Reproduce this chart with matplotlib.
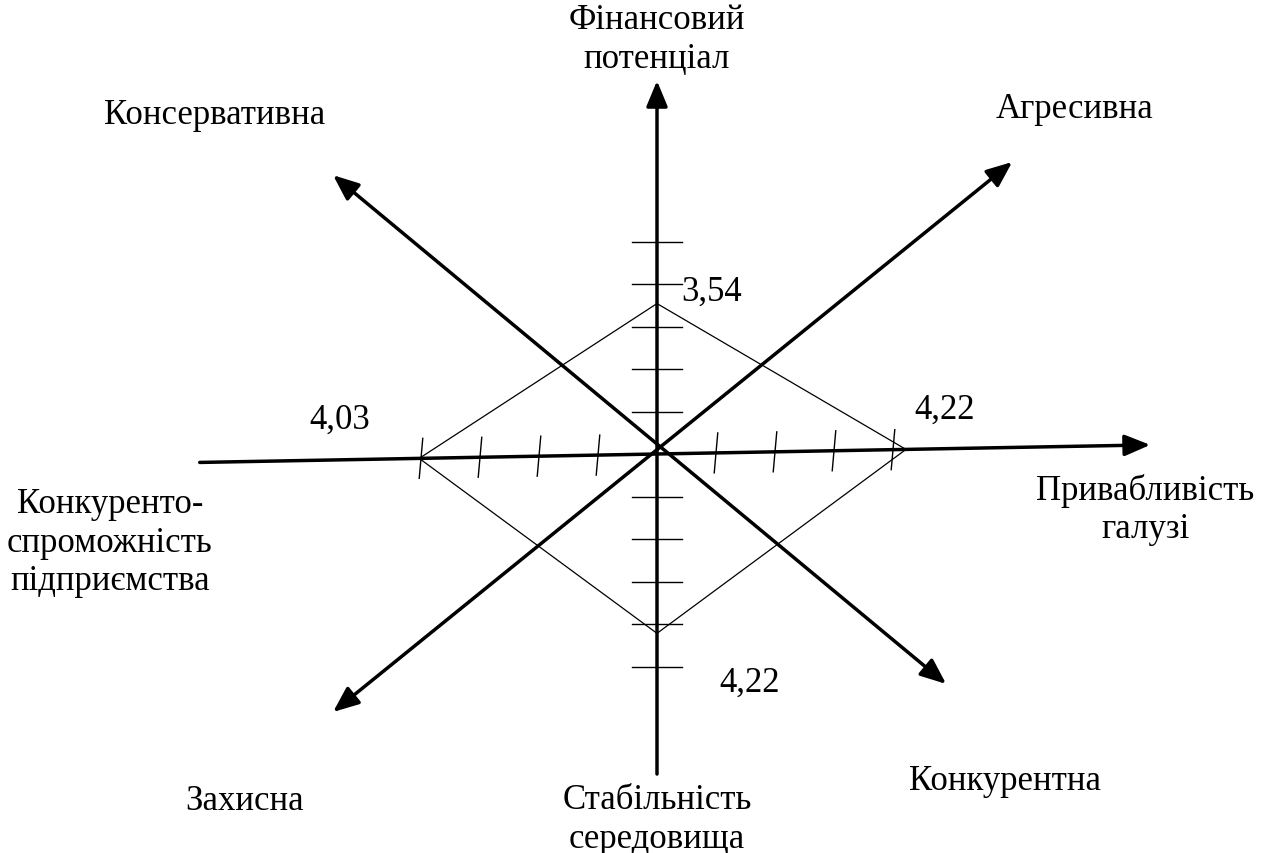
import numpy as np
import matplotlib
matplotlib.use('Agg')
import matplotlib.pyplot as plt

plt.rcParams['font.family'] = ['Liberation Serif', 'DejaVu Serif']

# дані матриці SPACE
напрямки = ['Фінансовий\nпотенціал', 'Привабливість\nгалузі',
            'Стабільність\nсередовища', 'Конкуренто-\nспроможність\nпідприємства']
значення = [3.54, 4.22, 4.22, 4.03]          # верх, право, низ, ліво
підписи_значень = ['3,54', '4,22', '4,22', '4,03']
стратегії = ['Агресивна', 'Консервативна', 'Захисна', 'Конкурентна']
поділки_x = [1, 2, 3, 4]
поділки_y = [1, 2, 3, 4, 5]

W, H = 1263, 854
cx, cy = 657, 455          # центр у пікселях
sx, sy = 59.0, 42.5        # пікселів на одиницю
нахил = 0.0256             # горизонтальна вісь трохи нахилена

fig = plt.figure(figsize=(W / 100, H / 100), dpi=100)
ax = fig.add_axes([0, 0, 1, 1])
ax.set_xlim(-cx / sx, (W - cx) / sx)
ax.set_ylim(-(H - cy) / sy, cy / sy)
ax.axis('off')

стиль1 = dict(arrowstyle='-|>,head_length=0.65,head_width=0.27', color='black',
              lw=2.5, mutation_scale=24, shrinkA=0, shrinkB=0)
стиль2 = dict(arrowstyle='<|-|>,head_length=0.65,head_width=0.27', color='black',
              lw=2.5, mutation_scale=24, shrinkA=0, shrinkB=0)

# осі
ax.annotate('', xy=(8.36, 8.36 * нахил), xytext=(-7.75, -7.75 * нахил), arrowprops=стиль1)
ax.annotate('', xy=(0, 8.78), xytext=(0, -7.53), arrowprops=стиль1)
# діагоналі
ax.annotate('', xy=(6.02, 6.87), xytext=(-5.49, -6.07), arrowprops=стиль2)
ax.annotate('', xy=(-5.49, 6.56), xytext=(4.9, -5.41), arrowprops=стиль2)

# поділки
for k in поділки_x:
    for s in (-1, 1):
        x = s * k
        y = x * нахил
        ax.plot([x - 0.03, x + 0.03], [y - 0.47, y + 0.47], color='black', lw=1.0)
for k in поділки_y:
    for s in (-1, 1):
        ax.plot([-0.43, 0.43], [s * k, s * k], color='black', lw=1.0)

# ромб
верх, право, низ, ліво = значення
px = [0, право, 0, -ліво, 0]
py = [верх, право * нахил, -низ, -ліво * нахил, верх]
ax.plot(px, py, color='black', lw=0.9)

def tx(x, y, s, **kw):
    ax.text(x / W, 1 - y / H, s, transform=ax.transAxes, ha='center', va='center',
            fontsize=25, linespacing=1.22, **kw)

# назви осей
tx(657, 40, напрямки[0])
tx(1145, 510, напрямки[1])
tx(657, 820, напрямки[2])
tx(110, 543, напрямки[3])

# стратегії
tx(1075, 110, стратегії[0])
tx(215, 115, стратегії[1])
tx(245, 802, стратегії[2])
tx(1005, 782, стратегії[3])

# значення
tx(712, 292, підписи_значень[0])
tx(945, 410, підписи_значень[1])
tx(750, 683, підписи_значень[2])
tx(340, 420, підписи_значень[3])

fig.savefig('out.png', dpi=100, facecolor='white')
